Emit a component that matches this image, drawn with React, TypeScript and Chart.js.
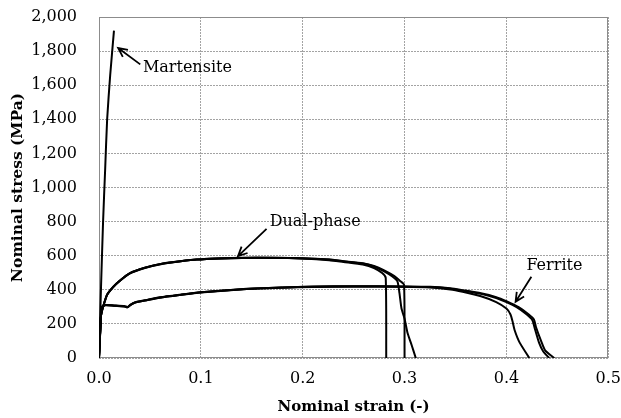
import React, { useEffect, useRef } from "react";
import { Chart, registerables } from "chart.js";

Chart.register(...registerables);

// ---- Data (strain [-], stress [MPa]) ----
const martensiteStrain = [0, 0.002, 0.004, 0.006, 0.008, 0.011, 0.0147];
const martensiteStress = [0, 420, 800, 1100, 1400, 1660, 1920];

const dp1Strain = [0, 0.002, 0.004, 0.008, 0.014, 0.02, 0.03, 0.045, 0.063, 0.08, 0.096, 0.12, 0.14, 0.17, 0.2, 0.226, 0.24, 0.259, 0.27, 0.278, 0.2815, 0.282];
const dp1Stress = [0, 250, 300, 372, 418, 452, 497, 530, 555, 568, 578, 585, 588, 588, 584, 574, 563, 548, 528, 498, 470, 0];

const dp2Strain = [0, 0.002, 0.004, 0.008, 0.014, 0.02, 0.03, 0.045, 0.063, 0.08, 0.096, 0.12, 0.14, 0.17, 0.2, 0.226, 0.24, 0.259, 0.27, 0.28, 0.288, 0.293, 0.295, 0.297, 0.3, 0.303, 0.307, 0.311];
const dp2Stress = [0, 250, 300, 370, 416, 450, 495, 528, 553, 567, 577, 584, 587, 587, 584, 577, 567, 554, 537, 508, 478, 450, 380, 290, 230, 145, 75, 0];

const dp3Strain = [0, 0.002, 0.004, 0.008, 0.014, 0.02, 0.03, 0.045, 0.063, 0.08, 0.096, 0.12, 0.14, 0.17, 0.2, 0.226, 0.24, 0.259, 0.27, 0.28, 0.29, 0.296, 0.2995, 0.3];
const dp3Stress = [0, 250, 300, 371, 417, 451, 496, 529, 554, 567, 577, 584, 587, 588, 585, 577, 568, 556, 540, 514, 480, 450, 430, 0];

const fe1Strain = [0, 0.002, 0.003, 0.006, 0.015, 0.025, 0.028, 0.031, 0.035, 0.047, 0.06, 0.079, 0.1, 0.145, 0.18, 0.21, 0.25, 0.3, 0.325, 0.345, 0.357, 0.375, 0.39, 0.4, 0.404, 0.406, 0.408, 0.413, 0.4225];
const fe1Stress = [0, 250, 300, 310, 307, 303, 298, 312, 325, 340, 355, 370, 385, 405, 413, 418, 420, 418, 414, 402, 388, 362, 328, 290, 255, 215, 164, 90, 0];

const fe2Strain = [0, 0.002, 0.003, 0.006, 0.015, 0.025, 0.028, 0.031, 0.035, 0.047, 0.06, 0.079, 0.1, 0.145, 0.18, 0.21, 0.25, 0.3, 0.325, 0.345, 0.357, 0.375, 0.39, 0.4, 0.41, 0.42, 0.4255, 0.428, 0.432, 0.436, 0.442];
const fe2Stress = [0, 250, 300, 310, 306, 302, 297, 311, 324, 339, 354, 369, 384, 404, 412, 417, 419, 418, 416, 406, 395, 376, 352, 328, 298, 255, 222, 170, 90, 40, 0];

const fe3Strain = [0, 0.002, 0.003, 0.006, 0.015, 0.025, 0.028, 0.031, 0.035, 0.047, 0.06, 0.079, 0.1, 0.145, 0.18, 0.21, 0.25, 0.3, 0.325, 0.345, 0.357, 0.375, 0.39, 0.4, 0.412, 0.422, 0.427, 0.429, 0.434, 0.438, 0.447];
const fe3Stress = [0, 250, 300, 311, 308, 304, 299, 313, 326, 341, 356, 371, 386, 406, 414, 419, 421, 420, 418, 409, 398, 380, 357, 333, 298, 255, 226, 182, 100, 45, 0];

const xTicks = [0, 0.1, 0.2, 0.3, 0.4, 0.5];
const yTicks = [0, 200, 400, 600, 800, 1000, 1200, 1400, 1600, 1800, 2000];

const seriesNames = ["Martensite", "Dual-phase 1", "Dual-phase 2", "Dual-phase 3", "Ferrite 1", "Ferrite 2", "Ferrite 3"];
const seriesX = [martensiteStrain, dp1Strain, dp2Strain, dp3Strain, fe1Strain, fe2Strain, fe3Strain];
const seriesY = [martensiteStress, dp1Stress, dp2Stress, dp3Stress, fe1Stress, fe2Stress, fe3Stress];

// annotation labels (text position and arrow in data coordinates)
const annLabels = ["Martensite", "Dual-phase", "Ferrite"];
const annTextAt = [[0.0431, 1701], [0.1676, 798], [0.4196, 540]];
const annArrowFrom = [[0.0405, 1722], [0.1645, 757], [0.4245, 476]];
const annArrowTo = [[0.0188, 1818], [0.1365, 598], [0.409, 330]];

const FONT = "'DejaVu Serif', 'Liberation Serif', serif";

const borderAndAnnotations = {
  id: "borderAndAnnotations",
  beforeDatasetsDraw(chart: any) {
    const { ctx, chartArea } = chart;
    ctx.save();
    ctx.strokeStyle = "#8c8c8c";
    ctx.lineWidth = 1;
    ctx.strokeRect(
      Math.round(chartArea.left) + 0.5,
      Math.round(chartArea.top) + 0.5,
      Math.round(chartArea.right - chartArea.left) - 1,
      Math.round(chartArea.bottom - chartArea.top) - 1
    );
    ctx.restore();
  },
  afterDatasetsDraw(chart: any) {
    const { ctx } = chart;
    const sx = chart.scales.x;
    const sy = chart.scales.y;
    ctx.save();
    ctx.fillStyle = "#000";
    ctx.strokeStyle = "#000";
    ctx.lineWidth = 1.8;
    ctx.font = `16px ${FONT}`;
    ctx.textBaseline = "middle";
    ctx.textAlign = "left";
    for (let i = 0; i < annLabels.length; i++) {
      ctx.fillText(annLabels[i], sx.getPixelForValue(annTextAt[i][0]), sy.getPixelForValue(annTextAt[i][1]));
      const x1 = sx.getPixelForValue(annArrowFrom[i][0]);
      const y1 = sy.getPixelForValue(annArrowFrom[i][1]);
      const x2 = sx.getPixelForValue(annArrowTo[i][0]);
      const y2 = sy.getPixelForValue(annArrowTo[i][1]);
      ctx.beginPath();
      ctx.moveTo(x1, y1);
      ctx.lineTo(x2, y2);
      const ang = Math.atan2(y2 - y1, x2 - x1);
      const len = 10;
      const spread = 0.45;
      ctx.moveTo(x2 - len * Math.cos(ang - spread), y2 - len * Math.sin(ang - spread));
      ctx.lineTo(x2, y2);
      ctx.lineTo(x2 - len * Math.cos(ang + spread), y2 - len * Math.sin(ang + spread));
      ctx.stroke();
    }
    ctx.restore();
  },
};

export default function App() {
  const ref = useRef<HTMLCanvasElement | null>(null);

  useEffect(() => {
    if (!ref.current) return;
    const datasets = seriesNames.map((name, i) => ({
      label: name,
      data: seriesX[i].map((x, j) => ({ x, y: seriesY[i][j] })),
      showLine: true,
      borderColor: "#000",
      backgroundColor: "#000",
      borderWidth: 2,
      pointRadius: 0,
      tension: 0.2,
      fill: false,
    }));
    const chart = new Chart(ref.current, {
      type: "scatter",
      data: { datasets },
      plugins: [borderAndAnnotations],
      options: {
        animation: false,
        responsive: false,
        layout: { padding: { top: 17, right: 12, left: 0, bottom: 0 } },
        plugins: { legend: { display: false }, tooltip: { enabled: false } },
        scales: {
          x: {
            type: "linear",
            min: 0,
            max: 0.5,
            afterFit: (s: any) => { s.height = 60; },
            afterBuildTicks: (s: any) => { s.ticks = xTicks.map((v) => ({ value: v })); },
            ticks: {
              padding: 0,
              color: "#000",
              font: { family: FONT, size: 16 },
              callback: (v: any) => Number(v).toFixed(1),
              maxRotation: 0,
            },
            grid: { color: "#a3a3a3", drawTicks: true, tickLength: 11, tickColor: "rgba(0,0,0,0)" },
            border: { display: false, dash: [2, 1] },
            title: {
              display: true,
              text: "Nominal strain (-)",
              color: "#000",
              font: { family: FONT, size: 15, weight: "bold" },
              padding: { top: 0, bottom: 2 },
            },
          },
          y: {
            type: "linear",
            min: 0,
            max: 2000,
            afterFit: (s: any) => { s.width = 99; },
            afterBuildTicks: (s: any) => { s.ticks = yTicks.map((v) => ({ value: v })); },
            ticks: {
              padding: 0,
              color: "#000",
              font: { family: FONT, size: 16 },
              callback: (v: any) => Number(v).toLocaleString("en-US"),
            },
            grid: { color: "#a3a3a3", drawTicks: true, tickLength: 22, tickColor: "rgba(0,0,0,0)" },
            border: { display: false, dash: [2, 1] },
            title: {
              display: true,
              text: "Nominal stress (MPa)",
              color: "#000",
              font: { family: FONT, size: 15.5, weight: "bold" },
              padding: { top: 9, bottom: 0 },
            },
          },
        },
      },
    });
    return () => chart.destroy();
  }, []);

  return (
    <div style={{ position: "absolute", left: 0, top: 0, width: 621, height: 418, background: "#fff" }}>
      <canvas ref={ref} width={621} height={418} style={{ display: "block" }} />
    </div>
  );
}
